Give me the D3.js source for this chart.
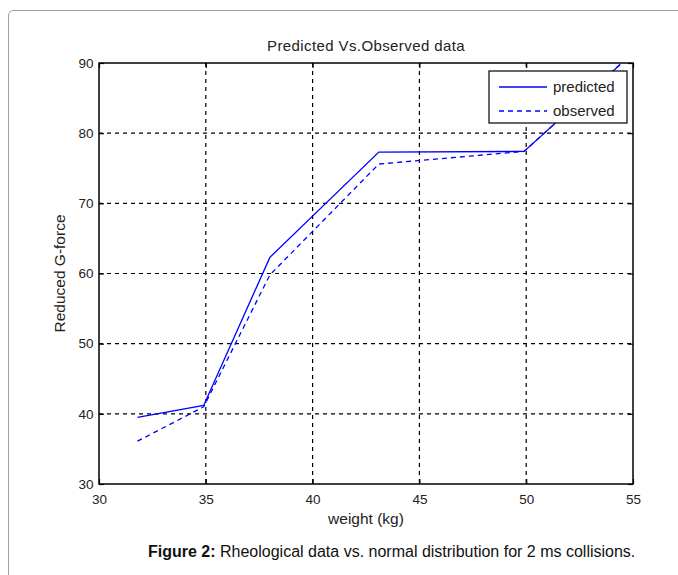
<!DOCTYPE html>
<html>
<head>
<meta charset="utf-8">
<script src="https://cdn.jsdelivr.net/npm/d3@7"></script>
<style>
  body { margin: 0; background: #fff; }
  svg { display: block; font-family: Arial, "Liberation Sans", sans-serif; }
  .tick text { font-size: 13.5px; fill: #222; }
</style>
</head>
<body>
<svg width="678" height="575"></svg>
<script>
const weight = [31.8, 34.9, 38.0, 43.1, 49.9, 54.4];
const predicted = [39.5, 41.2, 62.3, 77.3, 77.4, 89.8];
const observed = [36.1, 41.0, 59.8, 75.6, 77.4, 89.8];
const xTicks = [30, 35, 40, 45, 50, 55];
const yTicks = [30, 40, 50, 60, 70, 80, 90];
const seriesNames = ["predicted", "observed"];

const svg = d3.select("svg");
const plot = { left: 99, right: 633, top: 63, bottom: 484 };

// outer frame with rounded corner
svg.append("path")
  .attr("d", "M8.5,575 L8.5,16 Q8.5,10.5 14,10.5 L678,10.5")
  .attr("fill", "none")
  .attr("stroke", "#a0a0a0")
  .attr("stroke-width", 1);

const x = d3.scaleLinear().domain([30, 55]).range([plot.left, plot.right]);
const y = d3.scaleLinear().domain([30, 90]).range([plot.bottom, plot.top]);

const g = svg.append("g");

// grid
g.append("g").selectAll("line")
  .data(xTicks.slice(1, -1))
  .join("line")
    .attr("x1", d => x(d)).attr("x2", d => x(d))
    .attr("y1", plot.top).attr("y2", plot.bottom)
    .attr("stroke", "#000").attr("stroke-width", 1.2)
    .attr("stroke-dasharray", "4,4");

g.append("g").selectAll("line")
  .data(yTicks.slice(1, -1))
  .join("line")
    .attr("y1", d => y(d)).attr("y2", d => y(d))
    .attr("x1", plot.left).attr("x2", plot.right)
    .attr("stroke", "#000").attr("stroke-width", 1.2)
    .attr("stroke-dasharray", "4,4");

// axes (inward ticks)
g.append("g")
  .attr("transform", `translate(0,${plot.bottom})`)
  .call(d3.axisBottom(x).tickValues(xTicks).tickSizeInner(-5).tickSizeOuter(0).tickPadding(10))
  .call(a => a.select(".domain").remove());

g.append("g")
  .attr("transform", `translate(${plot.left},0)`)
  .call(d3.axisLeft(y).tickValues(yTicks).tickSizeInner(-5).tickSizeOuter(0).tickPadding(5.5))
  .call(a => a.select(".domain").remove());

g.append("g")
  .attr("transform", `translate(0,${plot.top})`)
  .call(d3.axisTop(x).tickValues(xTicks).tickSizeInner(-5).tickSizeOuter(0).tickFormat(""))
  .call(a => a.select(".domain").remove());

g.append("g")
  .attr("transform", `translate(${plot.right},0)`)
  .call(d3.axisRight(y).tickValues(yTicks).tickSizeInner(-5).tickSizeOuter(0).tickFormat(""))
  .call(a => a.select(".domain").remove());

g.selectAll(".tick line").attr("stroke", "#000").attr("stroke-width", 1.2);

g.append("rect")
  .attr("x", plot.left).attr("y", plot.top)
  .attr("width", plot.right - plot.left).attr("height", plot.bottom - plot.top)
  .attr("fill", "none").attr("stroke", "#000").attr("stroke-width", 1.5);

// series
const line = d3.line().x(d => x(d[0])).y(d => y(d[1]));

g.append("path")
  .datum(d3.zip(weight, observed))
  .attr("d", line)
  .attr("fill", "none").attr("stroke", "#0000ff").attr("stroke-width", 1.3)
  .attr("stroke-dasharray", "5,4");

g.append("path")
  .datum(d3.zip(weight, predicted))
  .attr("d", line)
  .attr("fill", "none").attr("stroke", "#0000ff").attr("stroke-width", 1.3);

// legend
const legend = g.append("g").attr("transform", "translate(489,71)");
legend.append("rect")
  .attr("width", 138).attr("height", 52)
  .attr("fill", "#fff").attr("stroke", "#000").attr("stroke-width", 1.2);

const item = legend.selectAll("g.item")
  .data(seriesNames)
  .join("g")
    .attr("class", "item")
    .attr("transform", (d, i) => `translate(0,${16 + i * 24})`);

item.append("line")
  .attr("x1", 10).attr("x2", 58)
  .attr("stroke", "#0000ff").attr("stroke-width", 1.3)
  .attr("stroke-dasharray", (d, i) => i ? "5,4" : null);

item.append("text")
  .attr("x", 64).attr("dy", "0.35em")
  .attr("font-size", 15).attr("fill", "#222")
  .text(d => d);

// titles
svg.append("text")
  .attr("x", (plot.left + plot.right) / 2).attr("y", 51)
  .attr("text-anchor", "middle").attr("font-size", 15).attr("letter-spacing", 0.4).attr("fill", "#222")
  .text("Predicted Vs.Observed data");

svg.append("text")
  .attr("x", (plot.left + plot.right) / 2).attr("y", 524)
  .attr("text-anchor", "middle").attr("font-size", 15.5).attr("fill", "#222")
  .text("weight (kg)");

svg.append("text")
  .attr("transform", `translate(65,${(plot.top + plot.bottom) / 2}) rotate(-90)`)
  .attr("text-anchor", "middle").attr("font-size", 15.5).attr("fill", "#222")
  .text("Reduced G-force");

// caption
const cap = svg.append("text")
  .attr("x", 148).attr("y", 557)
  .attr("font-size", 16).attr("fill", "#111");
cap.append("tspan").attr("font-weight", "bold").text("Figure 2:");
cap.append("tspan").text(" Rheological data vs. normal distribution for 2 ms collisions.");
</script>
</body>
</html>
